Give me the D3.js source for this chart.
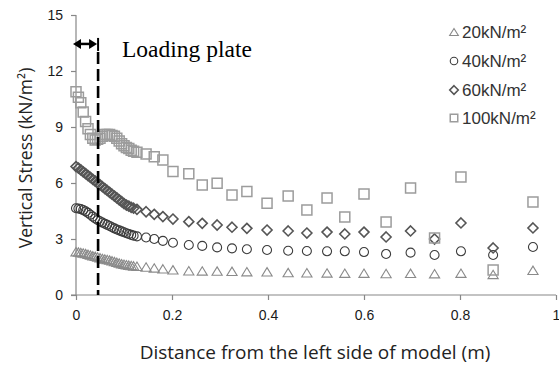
<!DOCTYPE html>
<html>
<head>
<meta charset="utf-8">
<script src="https://cdn.jsdelivr.net/npm/d3@7/dist/d3.min.js"></script>
<style>
  html, body { margin: 0; padding: 0; background: #fff; }
  svg { display: block; }
</style>
</head>
<body>
<svg id="chart" width="559" height="365"></svg>
<script>
// Distance from the left side of the model (m) at each gauge point
const distance = [
  0, 0.005, 0.01, 0.015, 0.02, 0.025, 0.03, 0.035, 0.04, 0.045,
  0.05, 0.055, 0.06, 0.065, 0.07, 0.075, 0.08, 0.085, 0.09, 0.095,
  0.1, 0.105, 0.11, 0.115, 0.12,
  0.127, 0.146, 0.163, 0.181, 0.202, 0.235, 0.263, 0.294, 0.325, 0.356,
  0.398, 0.442, 0.481, 0.523, 0.56, 0.6, 0.646, 0.697, 0.747, 0.802,
  0.869, 0.952
];

// Vertical stress (kN/m²) under each applied load
const stress20 = [
  2.32, 2.3, 2.28, 2.25, 2.22, 2.18, 2.14, 2.1, 2.07, 2.04,
  2.0, 1.96, 1.93, 1.9, 1.87, 1.83, 1.79, 1.75, 1.71, 1.68,
  1.65, 1.62, 1.6, 1.58, 1.56,
  1.54, 1.5, 1.45, 1.4, 1.35, 1.3, 1.29, 1.28, 1.27, 1.25,
  1.24, 1.2, 1.19, 1.18, 1.17, 1.17, 1.15, 1.16, 1.14, 1.17,
  1.1, 1.32
];
const stress40 = [
  4.65, 4.63, 4.6, 4.55, 4.48, 4.4, 4.3, 4.2, 4.1, 4.02,
  3.95, 3.88, 3.82, 3.76, 3.7, 3.63, 3.57, 3.51, 3.46, 3.41,
  3.36, 3.31, 3.27, 3.22, 3.18,
  3.14, 3.08, 3.0, 2.9, 2.8, 2.68, 2.63, 2.55, 2.5, 2.45,
  2.41, 2.37, 2.36, 2.34, 2.34, 2.3, 2.2, 2.27, 2.14, 2.34,
  2.14, 2.57
];
const stress60 = [
  6.88, 6.8, 6.7, 6.6, 6.5, 6.4, 6.3, 6.2, 6.1, 6.0,
  5.9, 5.8, 5.7, 5.6, 5.5, 5.4, 5.3, 5.2, 5.1, 5.0,
  4.9, 4.82, 4.76, 4.7, 4.65,
  4.59, 4.46, 4.32, 4.2, 4.07, 3.93, 3.84, 3.75, 3.63, 3.57,
  3.48, 3.43, 3.32, 3.37, 3.27, 3.37, 3.11, 3.43, 3.0, 3.86,
  2.52, 3.59
];
const stress100 = [
  10.89, 10.6, 10.3, 9.8, 9.3, 8.9, 8.6, 8.4, 8.3, 8.35,
  8.4, 8.5, 8.6, 8.6, 8.6, 8.55, 8.5, 8.4, 8.25, 8.1,
  8.0, 7.9, 7.85, 7.75, 7.7,
  7.65, 7.55, 7.41, 7.23, 6.62, 6.5, 5.89, 5.98, 5.36, 5.54,
  4.91, 5.3, 4.55, 5.2, 4.18, 5.41, 3.91, 5.73, 3.05, 6.32,
  1.34, 4.98
];

const seriesNames = ["20kN/m²", "40kN/m²", "60kN/m²", "100kN/m²"];
const xTicks = [0, 0.2, 0.4, 0.6, 0.8, 1];
const yTicks = [0, 3, 6, 9, 12, 15];
const plateEdge = 0.046;     // edge of the loading plate (m)
const arrowLevel = 13.45;    // height of the width arrow (kN/m²)

const series = [
  { name: seriesNames[0], values: stress20, shape: "triangle", color: "#8a8a8a", width: 1.1, size: 9 },
  { name: seriesNames[1], values: stress40, shape: "circle", color: "#3c3c3c", width: 1.1, size: 9 },
  { name: seriesNames[2], values: stress60, shape: "diamond", color: "#555555", width: 1.6, size: 9 },
  { name: seriesNames[3], values: stress100, shape: "square", color: "#9c9c9c", width: 1.5, size: 10 }
];

const svg = d3.select("#chart");
const margin = { left: 76, right: 3, top: 15, bottom: 70 };
const W = 559, H = 365;

const x = d3.scaleLinear().domain([0, 1]).range([margin.left, W - margin.right]);
const y = d3.scaleLinear().domain([0, 15]).range([H - margin.bottom, margin.top]);

// marker outlines, centred on the origin
function markerPath(shape, s) {
  const p = d3.path();
  if (shape === "square") {
    p.rect(-s / 2, -s / 2, s, s);
  } else if (shape === "circle") {
    p.arc(0, 0, s / 2, 0, Math.PI * 2);
  } else if (shape === "diamond") {
    const h = s / 2 + 0.5;
    p.moveTo(0, -h); p.lineTo(h, 0); p.lineTo(0, h); p.lineTo(-h, 0); p.closePath();
  } else {
    const w = s / 2 + 0.6, t = s / 2 - 0.3;
    p.moveTo(0, -t); p.lineTo(w, t); p.lineTo(-w, t); p.closePath();
  }
  return p.toString();
}

// axes
const axisColor = "#878787";
const xAxis = svg.append("g")
  .attr("transform", `translate(0,${y(0)})`)
  .call(d3.axisBottom(x).tickValues(xTicks).tickSize(5).tickPadding(10)
    .tickFormat(d => d3.format("~g")(d)));
const yAxis = svg.append("g")
  .attr("transform", `translate(${x(0)},0)`)
  .call(d3.axisLeft(y).tickValues(yTicks).tickSize(5).tickPadding(8));

[xAxis, yAxis].forEach(g => {
  g.select(".domain").attr("stroke", axisColor).attr("stroke-width", 1.2);
  g.selectAll(".tick line").attr("stroke", axisColor).attr("stroke-width", 1.2);
  g.selectAll(".tick text")
    .attr("fill", "#1a1a1a")
    .style("font-family", "'Liberation Sans', Arial, sans-serif")
    .style("font-size", "14px");
});
// y axis runs from 0 to 15 only, x axis starts at the y-axis tick
yAxis.select(".domain").attr("d", `M0,${y(15)}V${y(0)}`);
xAxis.select(".domain").attr("d", `M${x(0) - 5},0H${x(1)}`);

// data markers
series.forEach(s => {
  svg.append("g")
    .selectAll("path")
    .data(distance.map((d, i) => [d, s.values[i]]))
    .join("path")
    .attr("transform", d => `translate(${x(d[0])},${y(d[1])})`)
    .attr("d", markerPath(s.shape, s.size))
    .attr("fill", "none")
    .attr("stroke", s.color)
    .attr("stroke-width", s.width);
});

// loading plate: dashed edge line and width arrow
svg.append("line")
  .attr("x1", x(plateEdge)).attr("x2", x(plateEdge))
  .attr("y1", y(arrowLevel) + 8).attr("y2", y(0))
  .attr("stroke", "#000").attr("stroke-width", 2.6)
  .attr("stroke-dasharray", "12,5");
svg.append("line")
  .attr("x1", x(plateEdge)).attr("x2", x(plateEdge))
  .attr("y1", y(arrowLevel) - 6).attr("y2", y(arrowLevel) + 7)
  .attr("stroke", "#000").attr("stroke-width", 2);

const ax0 = x(0) - 3, ax1 = x(plateEdge) - 1, ay = y(arrowLevel);
svg.append("line")
  .attr("x1", ax0 + 6).attr("x2", ax1 - 6)
  .attr("y1", ay).attr("y2", ay)
  .attr("stroke", "#000").attr("stroke-width", 2.5);
svg.append("path")
  .attr("d", `M${ax0},${ay}L${ax0 + 8},${ay - 5}L${ax0 + 8},${ay + 5}Z`)
  .attr("fill", "#000");
svg.append("path")
  .attr("d", `M${ax1},${ay}L${ax1 - 8},${ay - 5}L${ax1 - 8},${ay + 5}Z`)
  .attr("fill", "#000");

svg.append("text")
  .attr("x", 122).attr("y", 57)
  .style("font-family", "'Liberation Serif', 'Times New Roman', serif")
  .style("font-size", "23.5px")
  .attr("fill", "#000")
  .text("Loading plate");

// legend
const legend = svg.append("g").attr("transform", "translate(454,0)");
const legendRows = [32, 61, 90, 118];
series.forEach((s, i) => {
  const row = legend.append("g").attr("transform", `translate(0,${legendRows[i]})`);
  row.append("path")
    .attr("d", markerPath(s.shape, 7.5))
    .attr("fill", "none")
    .attr("stroke", s.color)
    .attr("stroke-width", s.width);
  row.append("text")
    .attr("x", 8).attr("y", 6)
    .style("font-family", "'Liberation Sans', Arial, sans-serif")
    .style("font-size", "17px")
    .attr("fill", "#333")
    .text(s.name);
});

// axis titles
svg.append("text")
  .attr("x", (x(0) + x(1)) / 2 - 1).attr("y", 359)
  .attr("text-anchor", "middle")
  .style("font-family", "'Open Sans', sans-serif")
  .style("font-size", "19px")
  .attr("fill", "#222")
  .text("Distance from the left side of model (m)");

svg.append("text")
  .attr("transform", `translate(32,158) rotate(-90)`)
  .attr("text-anchor", "middle")
  .style("font-family", "'Open Sans', sans-serif")
  .style("font-size", "17.5px")
  .attr("fill", "#222")
  .text("Vertical Stress (kN/m²)");
</script>
</body>
</html>
